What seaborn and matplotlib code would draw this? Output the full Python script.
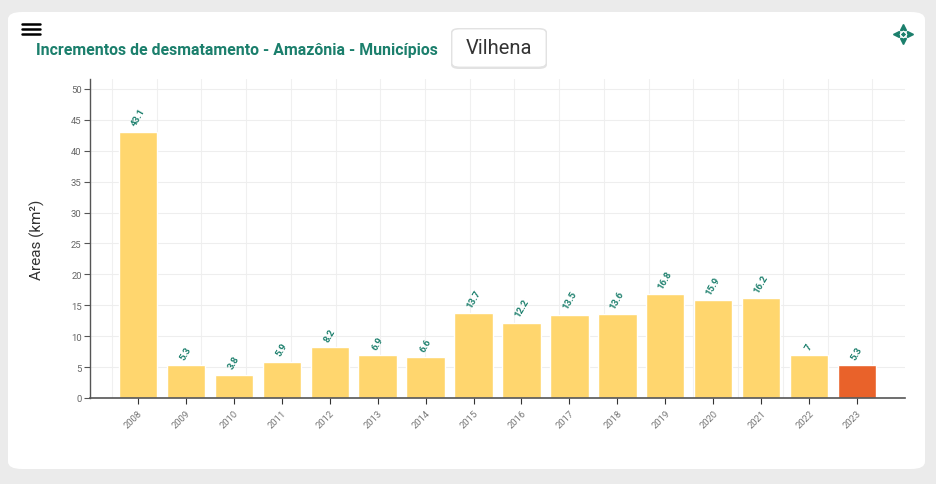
import matplotlib
matplotlib.use("Agg")
import matplotlib.pyplot as plt
from matplotlib.patches import FancyBboxPatch
from matplotlib.lines import Line2D
import numpy as np
import pandas as pd
import seaborn as sns

# data
years = ["2008", "2009", "2010", "2011", "2012", "2013", "2014", "2015",
         "2016", "2017", "2018", "2019", "2020", "2021", "2022", "2023"]
areas = [43.1, 5.3, 3.8, 5.9, 8.2, 6.9, 6.6, 13.7,
         12.2, 13.5, 13.6, 16.8, 15.9, 16.2, 7, 5.3]
highlight_year = "2023"
bar_labels = ["43.1", "5.3", "3.8", "5.9", "8.2", "6.9", "6.6", "13.7",
              "12.2", "13.5", "13.6", "16.8", "15.9", "16.2", "7", "5.3"]

title = "Incrementos de desmatamento - Amazônia - Municípios"
municipio = "Vilhena"
ylabel = "Areas (km²)"

sns.set_style("white")
plt.rcParams["font.family"] = ["Roboto", "DejaVu Sans"]

teal = "#1b7f6c"
bar_col = "#ffd66e"
hi_col = "#e9622a"

df = pd.DataFrame({"ano": years, "area": areas})
df["tipo"] = np.where(df["ano"] == highlight_year, "atual", "outros")

fig = plt.figure(figsize=(9.36, 4.85), dpi=100)
fig.patch.set_facecolor("#ebebeb")

# white card
card = FancyBboxPatch((8 / 936, 1 - 470 / 485), 917 / 936, 457 / 485,
                      boxstyle="round,pad=0,rounding_size=0.015",
                      transform=fig.transFigure, facecolor="white",
                      edgecolor="none", zorder=0)
fig.add_artist(card)

ax = fig.add_axes([90 / 936, 1 - 399 / 485, 815 / 936, 319 / 485])
ax.set_facecolor("none")

sns.barplot(data=df, x="ano", y="area", hue="tipo",
            palette={"outros": bar_col, "atual": hi_col},
            width=0.8, dodge=False, legend=False, saturation=1, ax=ax)

ax.set_xlim(-1, 16)
ax.set_ylim(0, 51.6)
ax.set_yticks(range(0, 55, 5))

# grid lines
ax.yaxis.grid(True, color="#eeeeee", lw=0.8)
vgrid = -0.544 + 0.933 * np.arange(18)
for gx in vgrid:
    ax.axvline(gx, color="#f0f0f0", lw=0.8, zorder=0)
ax.set_axisbelow(True)

for sp in ["top", "right"]:
    ax.spines[sp].set_visible(False)
ax.spines["left"].set_color("#555555")
ax.spines["bottom"].set_color("#555555")
ax.spines["left"].set_linewidth(1)
ax.spines["bottom"].set_linewidth(1.2)

ax.tick_params(axis="y", length=4, width=0.8, color="#555555",
               labelsize=6.8, labelcolor="#666666", pad=2, left=True)
ax.tick_params(axis="x", length=4, width=0.8, color="#333333",
               labelsize=6.8, labelcolor="#777777", pad=3, bottom=True)
plt.setp(ax.get_xticklabels(), rotation=45, ha="right",
         rotation_mode="anchor")

ax.set_xlabel("")
ax.set_ylabel(ylabel, fontsize=11, color="#333333", labelpad=19)

for i, (v, lab) in enumerate(zip(areas, bar_labels)):
    ax.annotate(lab, (i, v), xytext=(0, 3), textcoords="offset points",
                ha="center", va="bottom", rotation=60, fontsize=6.8,
                color=teal, fontweight="bold")

# header
fig.text(36 / 936, 1 - 50 / 485, title, fontsize=11.4, fontweight="bold",
         color=teal, va="center", ha="left")

shadow = FancyBboxPatch((451 / 936, 1 - 70 / 485), 96 / 936, 41 / 485,
                        boxstyle="round,pad=0,rounding_size=0.009",
                        transform=fig.transFigure, facecolor="#d6d6d6",
                        edgecolor="none", alpha=0.7, zorder=2)
box = FancyBboxPatch((452 / 936, 1 - 68 / 485), 94 / 936, 38 / 485,
                     boxstyle="round,pad=0,rounding_size=0.008",
                     transform=fig.transFigure, facecolor="white",
                     edgecolor="#e2e2e2", lw=0.6, zorder=3)
fig.add_artist(shadow)
fig.add_artist(box)
fig.text(499 / 936, 1 - 49 / 485, municipio, fontsize=14.5, color="#333333",
         ha="center", va="center", zorder=4)

# hamburger icon
for yy in (25, 30, 35):
    fig.add_artist(Line2D([22 / 936, 40 / 936], [1 - yy / 485] * 2,
                          transform=fig.transFigure, color="black", lw=1.8))

# move icon
cx, cy = 903 / 936, 1 - 35 / 485
dx, dy = 7 / 936, 7 / 485
for (ox, oy, m) in [(0, dy, "^"), (0, -dy, "v"), (-dx, 0, "<"), (dx, 0, ">")]:
    fig.add_artist(Line2D([cx + ox], [cy + oy], transform=fig.transFigure,
                          marker=m, markersize=5, color=teal, lw=0))
fig.add_artist(Line2D([cx], [cy], transform=fig.transFigure, marker="D",
                      markersize=3.5, color=teal, markeredgecolor="white",
                      markeredgewidth=0.8, lw=0))

fig.savefig("out.png", dpi=100, facecolor=fig.get_facecolor())
